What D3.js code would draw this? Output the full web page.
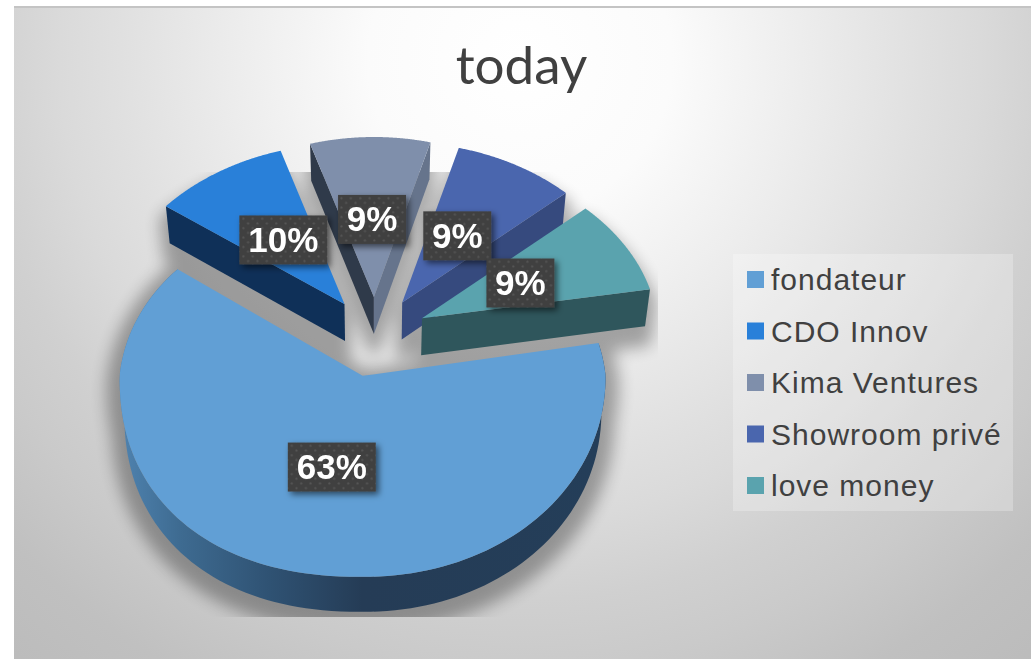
<!DOCTYPE html>
<html>
<head>
<meta charset="utf-8">
<style>
  html, body { margin: 0; padding: 0; background: #fff; }
  svg { display: block; }
</style>
<script src="https://d3js.org/d3.v7.min.js"></script>
</head>
<body>
<svg id="chart" width="1031" height="659"></svg>
<script>
(function () {

  var title = 'today';
  var categories = ['fondateur', 'CDO Innov', 'Kima Ventures', 'Showroom privé', 'love money'];
  var values = [63, 10, 9, 9, 9];
  var labels = ['63%', '10%', '9%', '9%', '9%'];

  var topColors = ['#619fd5', '#2980d9', '#7f8fab', '#4a66ae', '#5aa3ae'];
  var startFaceColors = ['none', '#0f3058', '#2f3a4a', 'none', 'none'];
  var endFaceColors = ['none', 'none', '#66748c', '#364a7e', '#2f565c'];

  var svg = d3.select('#chart');
  var defs = svg.append('defs');
  var rad = Math.PI / 180;

  var bg = defs.append('radialGradient')
  .attr('id', 'bgFill')
  .attr('gradientUnits', 'userSpaceOnUse')
  .attr('cx', 520).attr('cy', 60).attr('r', 800);
  [[0, '#ffffff'], [0.19, '#fbfbfb'], [0.375, '#ebebeb'], [0.5, '#e0e0e0'], [0.575, '#dadada'],
    [0.675, '#d0d0d0'], [0.76, '#cacaca'], [0.875, '#c0c0c0'], [1, '#bbbbbb']]
  .forEach(function (s) {
    bg.append('stop').attr('offset', s[0]).attr('stop-color', s[1]);
  });

  var wallFill = defs.append('linearGradient')
  .attr('id', 'mainWall')
  .attr('gradientUnits', 'userSpaceOnUse')
  .attr('x1', 119).attr('x2', 605).attr('y1', 0).attr('y2', 0);
  [[0, '#4f83b0'], [0.125, '#3e6b91'], [0.31, '#2f5273'], [0.5, '#253c56'], [1, '#243e59']]
  .forEach(function (s) {
    wallFill.append('stop').attr('offset', s[0]).attr('stop-color', s[1]);
  });

  defs.append('filter').attr('id', 'soft')
  .attr('x', '-20%').attr('y', '-20%').attr('width', '140%').attr('height', '140%')
  .append('feGaussianBlur').attr('stdDeviation', 8);

  defs.append('filter').attr('id', 'boxShadow')
  .attr('x', '-20%').attr('y', '-20%').attr('width', '150%').attr('height', '150%')
  .append('feDropShadow')
  .attr('dx', 3).attr('dy', 3).attr('stdDeviation', 3)
  .attr('flood-color', '#000').attr('flood-opacity', 0.55);

  var dots = defs.append('pattern')
  .attr('id', 'dots')
  .attr('patternUnits', 'userSpaceOnUse')
  .attr('width', 9.4).attr('height', 9.4);
  dots.append('rect').attr('width', 9.4).attr('height', 9.4).attr('fill', '#404040');
  dots.append('circle').attr('cx', 2.3).attr('cy', 2.3).attr('r', 1.1).attr('fill', '#555');
  dots.append('circle').attr('cx', 7).attr('cy', 7).attr('r', 1.1).attr('fill', '#555');

  defs.append('clipPath').attr('id', 'shadowClip')
  .append('rect').attr('x', 50).attr('y', 172).attr('width', 608).attr('height', 445);

  // page background
  svg.append('rect')
  .attr('x', 14).attr('y', 8).attr('width', 1017).attr('height', 651)
  .attr('fill', 'url(#bgFill)');
  svg.append('rect')
  .attr('x', 14).attr('y', 6).attr('width', 1017).attr('height', 2)
  .attr('fill', '#c4c4c4');

  svg.append('text')
  .attr('x', 521.5).attr('y', 84)
  .attr('text-anchor', 'middle')
  .attr('font-family', 'Lato, sans-serif')
  .attr('font-size', 53)
  .attr('fill', '#404040')
  .text(title);

  var pie = d3.pie().sort(null)
  .startAngle(80 * rad)
  .endAngle(440 * rad);

  var slices = pie(values);

  // The picture is a tilted 3D pie, so x and y get their own radius and
  // both shrink a little towards the back.
  var center = [374.8, 335];
  var vanishX = 375;
  var shrink = 0.982;

  function tipOf(d) {
    var mid = (d.startAngle + d.endAngle) / 2;
    var y = Math.cos(mid);
    return [
      center[0] + 52.6 * Math.sin(mid),
      center[1] - (y > 0 ? 38 : 42) * y
    ];
  }

  function radiiAt(i, a) {
    var y = Math.cos(a);
    if (i === 0) {
      return y > 0 ? [243 - 20 * y, 193 - 25 * y] : [243, 201];
    }
    return [235 - 20 * y, 168 - 8 * y];
  }

  function project(d, i, a, frac) {
    var tip = tipOf(d), r = radiiAt(i, a);
    var sx = Math.sin(a), cy = Math.cos(a);
    // the front edge of the big slice bulges a bit more than an ellipse
    if (i === 0 && cy < 0) {
      var pow = 2 / (sx < 0 ? 2.25 : 2.05);
      sx = (sx < 0 ? -1 : 1) * Math.pow(Math.abs(sx), pow);
      cy = -Math.pow(Math.abs(cy), pow);
    }
    return [
      tip[0] + frac * r[0] * sx,
      tip[1] - frac * r[1] * cy
    ];
  }

  function drop(p, depth) {
    return [vanishX + (p[0] - vanishX) * shrink, p[1] + depth];
  }

  function arcPoints(d, i) {
    return d3.range(0, 121).map(function (k) {
      var a = d.startAngle + (d.endAngle - d.startAngle) * k / 120;
      return project(d, i, a, 1);
    });
  }

  var depthOf = function (i) { return i === 0 ? 35 : 37; };
  var line = d3.line();

  function topPath(d, i) {
    return line([tipOf(d)].concat(arcPoints(d, i))) + 'Z';
  }

  function facePath(d, i, a) {
    var p = project(d, i, a, 1), tip = tipOf(d), depth = depthOf(i);
    return line([tip, p, drop(p, depth), drop(tip, depth)]) + 'Z';
  }

  function wallPath(d, i) {
    var pts = arcPoints(d, i), depth = depthOf(i);
    var lower = pts.map(function (p) { return drop(p, depth); }).reverse();
    return line(pts.concat(lower)) + 'Z';
  }

  // soft shadow under the slices, cut off by the plot box like the original.
  // back slices throw theirs mostly downwards, the big one all round.
  var shadow = svg.append('g')
  .attr('clip-path', 'url(#shadowClip)')
  .append('g')
  .attr('filter', 'url(#soft)')
  .attr('opacity', 0.32);

  slices.forEach(function (d, i) {
    [topPath(d, i), wallPath(d, i), facePath(d, i, d.startAngle), facePath(d, i, d.endAngle)]
    .forEach(function (p) {
      shadow.append('path')
      .attr('d', p)
      .attr('transform', i === 0 ? 'translate(0,7)' : 'translate(0,14)')
      .attr('fill', '#000')
      .attr('stroke', '#000')
      .attr('stroke-width', i === 0 ? 26 : 12)
      .attr('stroke-linejoin', 'round');
    });
  });

  // back slices first, the big one comes last
  var order = [1, 2, 3, 4, 0];
  var pieGroup = svg.append('g');

  order.forEach(function (i) {
    var d = slices[i];
    if (i === 0) {
      pieGroup.append('path').attr('d', wallPath(d, i)).attr('fill', 'url(#mainWall)');
    }
    if (startFaceColors[i] !== 'none') {
      pieGroup.append('path').attr('d', facePath(d, i, d.startAngle)).attr('fill', startFaceColors[i]);
    }
    if (endFaceColors[i] !== 'none') {
      pieGroup.append('path').attr('d', facePath(d, i, d.endAngle)).attr('fill', endFaceColors[i]);
    }
    pieGroup.append('path').attr('d', topPath(d, i)).attr('fill', topColors[i]);
  });

  // data labels
  var labelGroup = svg.append('g')
  .selectAll('g')
  .data(slices)
  .enter()
  .append('g')
  .attr('transform', function (d, i) {
    var mid = (d.startAngle + d.endAngle) / 2;
    var c = project(d, i, mid, i === 0 ? 0.465 : 0.485);
    return 'translate(' + c[0] + ',' + c[1] + ')';
  });

  labelGroup.append('rect')
  .attr('x', function (d, i) { return labels[i].length > 2 ? -44 : -34; })
  .attr('y', -24.5)
  .attr('width', function (d, i) { return labels[i].length > 2 ? 88 : 68; })
  .attr('height', 49)
  .attr('fill', 'url(#dots)')
  .attr('filter', 'url(#boxShadow)');

  labelGroup.append('text')
  .attr('text-anchor', 'middle')
  .attr('y', 12)
  .attr('font-family', '"Liberation Sans", Arial, sans-serif')
  .attr('font-weight', 'bold')
  .attr('font-size', 35)
  .attr('fill', '#fff')
  .text(function (d, i) { return labels[i]; });

  // legend
  svg.append('rect')
  .attr('x', 733).attr('y', 254).attr('width', 280).attr('height', 257)
  .attr('fill', '#fff').attr('fill-opacity', 0.25);

  var legendY = d3.scalePoint()
  .domain(categories)
  .range([279.5, 485.5]);

  var legend = svg.append('g')
  .selectAll('g')
  .data(categories)
  .enter()
  .append('g')
  .attr('transform', function (d) {
    return 'translate(747,' + legendY(d) + ')';
  });

  legend.append('rect')
  .attr('y', -8.5)
  .attr('width', 17)
  .attr('height', 17)
  .attr('fill', function (d, i) { return topColors[i]; });

  legend.append('text')
  .attr('x', 24)
  .attr('y', 10.5)
  .attr('font-family', '"Liberation Sans", Arial, sans-serif')
  .attr('font-size', 30)
  .attr('letter-spacing', 1)
  .attr('fill', '#404040')
  .text(function (d) { return d; });

})();
</script>
</body>
</html>
